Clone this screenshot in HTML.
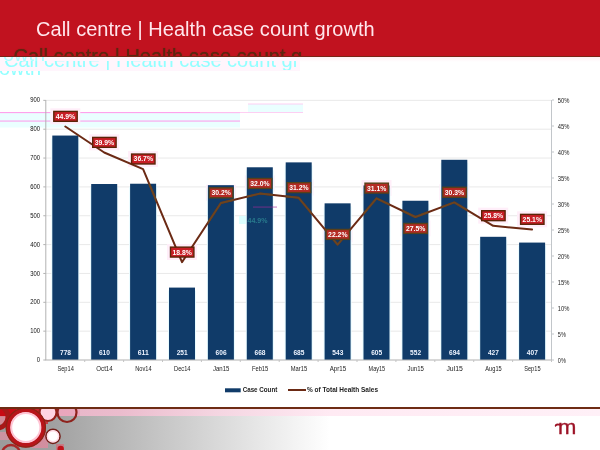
<!DOCTYPE html>
<html><head><meta charset="utf-8"><title>Call centre | Health case count growth</title>
<style>
html,body{margin:0;padding:0;background:#fff;}
body{width:600px;height:450px;overflow:hidden;position:relative;font-family:"Liberation Sans",sans-serif;}
#hdr{position:absolute;left:0;top:0;width:600px;height:56px;background:#c1121f;border-bottom:1px solid #7a2416;overflow:hidden;}
#title{position:absolute;left:36px;top:18.2px;font-size:20px;line-height:23px;color:#ffe6ec;white-space:nowrap;letter-spacing:0.03px;}
#ghost1{position:absolute;left:13.5px;top:45.3px;font-size:20px;line-height:23px;color:#5e2610;white-space:nowrap;text-shadow:0 0 1px #5e2610;}
#tint{position:absolute;left:0;top:57px;width:600px;height:5px;background:linear-gradient(180deg,#fff0f5,#ffffff);}
#haze{position:absolute;left:0;top:57px;width:300px;height:14px;background:#fff5fc;}
#gwrap{position:absolute;left:0;top:60.6px;width:320px;height:9px;overflow:hidden;}
#ghost2{position:absolute;left:4px;top:-11.2px;font-size:20px;line-height:23px;color:#92ffff;white-space:nowrap;}
#gwrap2{position:absolute;left:0;top:71px;width:60px;height:5.6px;overflow:hidden;}
#ghost3{position:absolute;left:-1px;top:-13.8px;font-size:20px;line-height:23px;color:#92ffff;white-space:nowrap;}
#gwrap3{position:absolute;left:0;top:57px;width:60px;height:6.5px;overflow:hidden;}
#ghost4{position:absolute;left:3px;top:-13.6px;font-size:20px;line-height:23px;color:#aff;white-space:nowrap;}
#ftr{position:absolute;left:0;top:407.5px;width:600px;height:42.5px;background:linear-gradient(90deg,#9c9c9c 0px,#a0a0a0 50px,#c2c2c2 150px,#e4e4e4 250px,#ffffff 330px,#ffffff 600px);overflow:hidden;}
#fline{position:absolute;left:0;top:407.4px;width:600px;height:1.6px;background:#6e2c14;}
#fpink{position:absolute;left:0;top:409px;width:600px;height:6.6px;background:linear-gradient(90deg,#e6b0c4 0px,#ebbccd 120px,#f5d6e2 220px,#ffeaf3 330px,#fff0f7 600px);}
#logo{position:absolute;left:558.1px;top:416.2px;font-size:20px;line-height:23px;color:#9c1226;-webkit-text-stroke:0.35px #9c1226;transform-origin:0 0;transform:scale(1.1,1);}
svg{position:absolute;left:0;top:0;}
svg text{font-family:"Liberation Sans",sans-serif;}
</style></head><body>
<div id="hdr"><div id="title">Call centre | Health case count growth</div><div id="ghost1">Call centre | Health case count g</div></div>
<div id="tint"></div><div id="haze"></div>
<div id="gwrap3"><div id="ghost4">owth</div></div>
<div id="gwrap"><div id="ghost2">Call centre | Health case count gr</div></div>
<div id="gwrap2"><div id="ghost3">owth</div></div>
<div id="ftr"></div><div id="fpink"></div><div id="fline"></div>
<div id="logo">m</div>
<svg width="600" height="450" viewBox="0 0 600 450">
<rect x="0" y="113" width="240" height="14.5" fill="#eaffff"/>
<rect x="248" y="104" width="55" height="8.5" fill="#eaffff"/>
<rect x="0" y="112.2" width="240" height="0.9" fill="#ff8ce8"/>
<rect x="0" y="120.6" width="240" height="0.9" fill="#ff8ce8"/>
<rect x="248" y="103.6" width="55" height="0.8" fill="#ffc4f0"/>
<rect x="200" y="112.2" width="103" height="0.8" fill="#ffc4f0"/>
<rect x="45.8" y="330.65" width="505.7" height="1" fill="#e9e9e9"/>
<rect x="45.8" y="301.80" width="505.7" height="1" fill="#e9e9e9"/>
<rect x="45.8" y="272.95" width="505.7" height="1" fill="#e9e9e9"/>
<rect x="45.8" y="244.10" width="505.7" height="1" fill="#e9e9e9"/>
<rect x="45.8" y="215.25" width="505.7" height="1" fill="#e9e9e9"/>
<rect x="45.8" y="186.40" width="505.7" height="1" fill="#e9e9e9"/>
<rect x="45.8" y="157.55" width="505.7" height="1" fill="#e9e9e9"/>
<rect x="45.8" y="128.70" width="505.7" height="1" fill="#e9e9e9"/>
<rect x="45.8" y="99.85" width="505.7" height="1" fill="#e9e9e9"/>
<rect x="239" y="216" width="33" height="8" fill="#dcffff"/>
<rect x="50.30" y="108.32" width="30" height="16" fill="#ffeef9"/>
<rect x="89.20" y="134.32" width="30" height="16" fill="#ffeef9"/>
<rect x="128.10" y="150.96" width="30" height="16" fill="#ffeef9"/>
<rect x="167.00" y="244.04" width="30" height="16" fill="#ffeef9"/>
<rect x="205.90" y="184.76" width="30" height="16" fill="#ffeef9"/>
<rect x="244.80" y="175.40" width="30" height="16" fill="#ffeef9"/>
<rect x="283.70" y="179.56" width="30" height="16" fill="#ffeef9"/>
<rect x="322.60" y="226.36" width="30" height="16" fill="#ffeef9"/>
<rect x="361.50" y="180.08" width="30" height="16" fill="#ffeef9"/>
<rect x="400.40" y="220.40" width="30" height="16" fill="#ffeef9"/>
<rect x="439.30" y="184.24" width="30" height="16" fill="#ffeef9"/>
<rect x="478.20" y="207.64" width="30" height="16" fill="#ffeef9"/>
<rect x="517.10" y="211.28" width="30" height="16" fill="#ffeef9"/>
<rect x="51.30" y="138.55" width="28.00" height="221.45" fill="#e8fbff"/>
<rect x="52.30" y="135.55" width="26.00" height="224.45" fill="#103b69"/>
<rect x="90.20" y="187.01" width="28.00" height="172.99" fill="#e8fbff"/>
<rect x="91.20" y="184.01" width="26.00" height="175.99" fill="#103b69"/>
<rect x="129.10" y="186.73" width="28.00" height="173.27" fill="#e8fbff"/>
<rect x="130.10" y="183.73" width="26.00" height="176.27" fill="#103b69"/>
<rect x="168.00" y="290.59" width="28.00" height="69.41" fill="#e8fbff"/>
<rect x="169.00" y="287.59" width="26.00" height="72.41" fill="#103b69"/>
<rect x="206.90" y="188.17" width="28.00" height="171.83" fill="#e8fbff"/>
<rect x="207.90" y="185.17" width="26.00" height="174.83" fill="#103b69"/>
<rect x="245.80" y="170.28" width="28.00" height="189.72" fill="#e8fbff"/>
<rect x="246.80" y="167.28" width="26.00" height="192.72" fill="#103b69"/>
<rect x="284.70" y="165.38" width="28.00" height="194.62" fill="#e8fbff"/>
<rect x="285.70" y="162.38" width="26.00" height="197.62" fill="#103b69"/>
<rect x="323.60" y="206.34" width="28.00" height="153.66" fill="#e8fbff"/>
<rect x="324.60" y="203.34" width="26.00" height="156.66" fill="#103b69"/>
<rect x="362.50" y="188.46" width="28.00" height="171.54" fill="#e8fbff"/>
<rect x="363.50" y="185.46" width="26.00" height="174.54" fill="#103b69"/>
<rect x="401.40" y="203.75" width="28.00" height="156.25" fill="#e8fbff"/>
<rect x="402.40" y="200.75" width="26.00" height="159.25" fill="#103b69"/>
<rect x="440.30" y="162.78" width="28.00" height="197.22" fill="#e8fbff"/>
<rect x="441.30" y="159.78" width="26.00" height="200.22" fill="#103b69"/>
<rect x="479.20" y="239.81" width="28.00" height="120.19" fill="#e8fbff"/>
<rect x="480.20" y="236.81" width="26.00" height="123.19" fill="#103b69"/>
<rect x="518.10" y="245.58" width="28.00" height="114.42" fill="#e8fbff"/>
<rect x="519.10" y="242.58" width="26.00" height="117.42" fill="#103b69"/>
<rect x="45.3" y="100" width="1" height="260" fill="#b2b2b2"/>
<rect x="551" y="100" width="1" height="260" fill="#c2c6ca"/>
<rect x="45.3" y="359.5" width="506.7" height="1" fill="#b2b2b2"/>
<rect x="43.3" y="359.50" width="2.5" height="1" fill="#b2b2b2"/>
<text x="40" y="362.10" font-size="6.6" text-anchor="end" fill="#111" textLength="3.3" lengthAdjust="spacingAndGlyphs">0</text>
<rect x="43.3" y="330.65" width="2.5" height="1" fill="#b2b2b2"/>
<text x="40" y="333.25" font-size="6.6" text-anchor="end" fill="#111" textLength="9.8" lengthAdjust="spacingAndGlyphs">100</text>
<rect x="43.3" y="301.80" width="2.5" height="1" fill="#b2b2b2"/>
<text x="40" y="304.40" font-size="6.6" text-anchor="end" fill="#111" textLength="9.8" lengthAdjust="spacingAndGlyphs">200</text>
<rect x="43.3" y="272.95" width="2.5" height="1" fill="#b2b2b2"/>
<text x="40" y="275.55" font-size="6.6" text-anchor="end" fill="#111" textLength="9.8" lengthAdjust="spacingAndGlyphs">300</text>
<rect x="43.3" y="244.10" width="2.5" height="1" fill="#b2b2b2"/>
<text x="40" y="246.70" font-size="6.6" text-anchor="end" fill="#111" textLength="9.8" lengthAdjust="spacingAndGlyphs">400</text>
<rect x="43.3" y="215.25" width="2.5" height="1" fill="#b2b2b2"/>
<text x="40" y="217.85" font-size="6.6" text-anchor="end" fill="#111" textLength="9.8" lengthAdjust="spacingAndGlyphs">500</text>
<rect x="43.3" y="186.40" width="2.5" height="1" fill="#b2b2b2"/>
<text x="40" y="189.00" font-size="6.6" text-anchor="end" fill="#111" textLength="9.8" lengthAdjust="spacingAndGlyphs">600</text>
<rect x="43.3" y="157.55" width="2.5" height="1" fill="#b2b2b2"/>
<text x="40" y="160.15" font-size="6.6" text-anchor="end" fill="#111" textLength="9.8" lengthAdjust="spacingAndGlyphs">700</text>
<rect x="43.3" y="128.70" width="2.5" height="1" fill="#b2b2b2"/>
<text x="40" y="131.30" font-size="6.6" text-anchor="end" fill="#111" textLength="9.8" lengthAdjust="spacingAndGlyphs">800</text>
<rect x="43.3" y="99.85" width="2.5" height="1" fill="#b2b2b2"/>
<text x="40" y="102.45" font-size="6.6" text-anchor="end" fill="#111" textLength="9.8" lengthAdjust="spacingAndGlyphs">900</text>
<rect x="552" y="359.50" width="2" height="1" fill="#c2c6ca"/>
<text x="557.8" y="362.90" font-size="6.6" fill="#222" textLength="8.0" lengthAdjust="spacingAndGlyphs">0%</text>
<rect x="552" y="333.50" width="2" height="1" fill="#c2c6ca"/>
<text x="557.8" y="336.90" font-size="6.6" fill="#222" textLength="8.0" lengthAdjust="spacingAndGlyphs">5%</text>
<rect x="552" y="307.50" width="2" height="1" fill="#c2c6ca"/>
<text x="557.8" y="310.90" font-size="6.6" fill="#222" textLength="11.6" lengthAdjust="spacingAndGlyphs">10%</text>
<rect x="552" y="281.50" width="2" height="1" fill="#c2c6ca"/>
<text x="557.8" y="284.90" font-size="6.6" fill="#222" textLength="11.6" lengthAdjust="spacingAndGlyphs">15%</text>
<rect x="552" y="255.50" width="2" height="1" fill="#c2c6ca"/>
<text x="557.8" y="258.90" font-size="6.6" fill="#222" textLength="11.6" lengthAdjust="spacingAndGlyphs">20%</text>
<rect x="552" y="229.50" width="2" height="1" fill="#c2c6ca"/>
<text x="557.8" y="232.90" font-size="6.6" fill="#222" textLength="11.6" lengthAdjust="spacingAndGlyphs">25%</text>
<rect x="552" y="203.50" width="2" height="1" fill="#c2c6ca"/>
<text x="557.8" y="206.90" font-size="6.6" fill="#222" textLength="11.6" lengthAdjust="spacingAndGlyphs">30%</text>
<rect x="552" y="177.50" width="2" height="1" fill="#c2c6ca"/>
<text x="557.8" y="180.90" font-size="6.6" fill="#222" textLength="11.6" lengthAdjust="spacingAndGlyphs">35%</text>
<rect x="552" y="151.50" width="2" height="1" fill="#c2c6ca"/>
<text x="557.8" y="154.90" font-size="6.6" fill="#222" textLength="11.6" lengthAdjust="spacingAndGlyphs">40%</text>
<rect x="552" y="125.50" width="2" height="1" fill="#c2c6ca"/>
<text x="557.8" y="128.90" font-size="6.6" fill="#222" textLength="11.6" lengthAdjust="spacingAndGlyphs">45%</text>
<rect x="552" y="99.50" width="2" height="1" fill="#c2c6ca"/>
<text x="557.8" y="102.90" font-size="6.6" fill="#222" textLength="11.6" lengthAdjust="spacingAndGlyphs">50%</text>
<rect x="84.20" y="360" width="1" height="2" fill="#c4c4c4"/>
<text x="65.60" y="371" font-size="6.6" text-anchor="middle" fill="#222" textLength="16.4" lengthAdjust="spacingAndGlyphs">Sep14</text>
<text x="65.50" y="354.7" font-size="7.2" font-weight="bold" text-anchor="middle" fill="#eef4ff" textLength="11" lengthAdjust="spacingAndGlyphs">778</text>
<rect x="123.10" y="360" width="1" height="2" fill="#c4c4c4"/>
<text x="104.50" y="371" font-size="6.6" text-anchor="middle" fill="#222" textLength="16.4" lengthAdjust="spacingAndGlyphs">Oct14</text>
<text x="104.40" y="354.7" font-size="7.2" font-weight="bold" text-anchor="middle" fill="#eef4ff" textLength="11" lengthAdjust="spacingAndGlyphs">610</text>
<rect x="162.00" y="360" width="1" height="2" fill="#c4c4c4"/>
<text x="143.40" y="371" font-size="6.6" text-anchor="middle" fill="#222" textLength="16.4" lengthAdjust="spacingAndGlyphs">Nov14</text>
<text x="143.30" y="354.7" font-size="7.2" font-weight="bold" text-anchor="middle" fill="#eef4ff" textLength="11" lengthAdjust="spacingAndGlyphs">611</text>
<rect x="200.90" y="360" width="1" height="2" fill="#c4c4c4"/>
<text x="182.30" y="371" font-size="6.6" text-anchor="middle" fill="#222" textLength="16.4" lengthAdjust="spacingAndGlyphs">Dec14</text>
<text x="182.20" y="354.7" font-size="7.2" font-weight="bold" text-anchor="middle" fill="#eef4ff" textLength="11" lengthAdjust="spacingAndGlyphs">251</text>
<rect x="239.80" y="360" width="1" height="2" fill="#c4c4c4"/>
<text x="221.20" y="371" font-size="6.6" text-anchor="middle" fill="#222" textLength="16.4" lengthAdjust="spacingAndGlyphs">Jan15</text>
<text x="221.10" y="354.7" font-size="7.2" font-weight="bold" text-anchor="middle" fill="#eef4ff" textLength="11" lengthAdjust="spacingAndGlyphs">606</text>
<rect x="278.70" y="360" width="1" height="2" fill="#c4c4c4"/>
<text x="260.10" y="371" font-size="6.6" text-anchor="middle" fill="#222" textLength="16.4" lengthAdjust="spacingAndGlyphs">Feb15</text>
<text x="260.00" y="354.7" font-size="7.2" font-weight="bold" text-anchor="middle" fill="#eef4ff" textLength="11" lengthAdjust="spacingAndGlyphs">668</text>
<rect x="317.60" y="360" width="1" height="2" fill="#c4c4c4"/>
<text x="299.00" y="371" font-size="6.6" text-anchor="middle" fill="#222" textLength="16.4" lengthAdjust="spacingAndGlyphs">Mar15</text>
<text x="298.90" y="354.7" font-size="7.2" font-weight="bold" text-anchor="middle" fill="#eef4ff" textLength="11" lengthAdjust="spacingAndGlyphs">685</text>
<rect x="356.50" y="360" width="1" height="2" fill="#c4c4c4"/>
<text x="337.90" y="371" font-size="6.6" text-anchor="middle" fill="#222" textLength="16.4" lengthAdjust="spacingAndGlyphs">Apr15</text>
<text x="337.80" y="354.7" font-size="7.2" font-weight="bold" text-anchor="middle" fill="#eef4ff" textLength="11" lengthAdjust="spacingAndGlyphs">543</text>
<rect x="395.40" y="360" width="1" height="2" fill="#c4c4c4"/>
<text x="376.80" y="371" font-size="6.6" text-anchor="middle" fill="#222" textLength="16.4" lengthAdjust="spacingAndGlyphs">May15</text>
<text x="376.70" y="354.7" font-size="7.2" font-weight="bold" text-anchor="middle" fill="#eef4ff" textLength="11" lengthAdjust="spacingAndGlyphs">605</text>
<rect x="434.30" y="360" width="1" height="2" fill="#c4c4c4"/>
<text x="415.70" y="371" font-size="6.6" text-anchor="middle" fill="#222" textLength="16.4" lengthAdjust="spacingAndGlyphs">Jun15</text>
<text x="415.60" y="354.7" font-size="7.2" font-weight="bold" text-anchor="middle" fill="#eef4ff" textLength="11" lengthAdjust="spacingAndGlyphs">552</text>
<rect x="473.20" y="360" width="1" height="2" fill="#c4c4c4"/>
<text x="454.60" y="371" font-size="6.6" text-anchor="middle" fill="#222" textLength="16.4" lengthAdjust="spacingAndGlyphs">Jul15</text>
<text x="454.50" y="354.7" font-size="7.2" font-weight="bold" text-anchor="middle" fill="#eef4ff" textLength="11" lengthAdjust="spacingAndGlyphs">694</text>
<rect x="512.10" y="360" width="1" height="2" fill="#c4c4c4"/>
<text x="493.50" y="371" font-size="6.6" text-anchor="middle" fill="#222" textLength="16.4" lengthAdjust="spacingAndGlyphs">Aug15</text>
<text x="493.40" y="354.7" font-size="7.2" font-weight="bold" text-anchor="middle" fill="#eef4ff" textLength="11" lengthAdjust="spacingAndGlyphs">427</text>
<rect x="551.00" y="360" width="1" height="2" fill="#c4c4c4"/>
<text x="532.40" y="371" font-size="6.6" text-anchor="middle" fill="#222" textLength="16.4" lengthAdjust="spacingAndGlyphs">Sep15</text>
<text x="532.30" y="354.7" font-size="7.2" font-weight="bold" text-anchor="middle" fill="#eef4ff" textLength="11" lengthAdjust="spacingAndGlyphs">407</text>
<polyline fill="none" stroke="#6b2a14" stroke-width="2" stroke-linejoin="round" stroke-linecap="round" points="65.3,126.5 104.2,152.5 143.1,169.2 182.0,262.2 220.9,203.0 259.8,193.6 298.7,197.8 337.6,244.6 376.5,198.3 415.4,217.0 454.3,202.4 493.2,225.8 532.1,229.5"/>
<clipPath id="bc"><rect x="52.30" y="135.55" width="26.0" height="224.45"/><rect x="91.20" y="184.01" width="26.0" height="175.99"/><rect x="130.10" y="183.73" width="26.0" height="176.27"/><rect x="169.00" y="287.59" width="26.0" height="72.41"/><rect x="207.90" y="185.17" width="26.0" height="174.83"/><rect x="246.80" y="167.28" width="26.0" height="192.72"/><rect x="285.70" y="162.38" width="26.0" height="197.62"/><rect x="324.60" y="203.34" width="26.0" height="156.66"/><rect x="363.50" y="185.46" width="26.0" height="174.54"/><rect x="402.40" y="200.75" width="26.0" height="159.25"/><rect x="441.30" y="159.78" width="26.0" height="200.22"/><rect x="480.20" y="236.81" width="26.0" height="123.19"/><rect x="519.10" y="242.58" width="26.0" height="117.42"/></clipPath>
<polyline clip-path="url(#bc)" fill="none" stroke="#6a4420" stroke-width="2" stroke-linejoin="round" stroke-linecap="round" points="65.3,126.5 104.2,152.5 143.1,169.2 182.0,262.2 220.9,203.0 259.8,193.6 298.7,197.8 337.6,244.6 376.5,198.3 415.4,217.0 454.3,202.4 493.2,225.8 532.1,229.5"/>
<rect x="53.80" y="111.42" width="23.4" height="9.9" fill="#c81e26" stroke="#5a2408" stroke-width="1.4"/>
<text x="65.50" y="118.82" font-size="6.8" font-weight="bold" text-anchor="middle" fill="#fff" textLength="19.4" lengthAdjust="spacingAndGlyphs">44.9%</text>
<rect x="92.70" y="137.42" width="23.4" height="9.9" fill="#c81e26" stroke="#5a2408" stroke-width="1.4"/>
<text x="104.40" y="144.82" font-size="6.8" font-weight="bold" text-anchor="middle" fill="#fff" textLength="19.4" lengthAdjust="spacingAndGlyphs">39.9%</text>
<rect x="131.60" y="154.06" width="23.4" height="9.9" fill="#c81e26" stroke="#5a2408" stroke-width="1.4"/>
<text x="143.30" y="161.46" font-size="6.8" font-weight="bold" text-anchor="middle" fill="#fff" textLength="19.4" lengthAdjust="spacingAndGlyphs">36.7%</text>
<rect x="170.50" y="247.14" width="23.4" height="9.9" fill="#c81e26" stroke="#5a2408" stroke-width="1.4"/>
<text x="182.20" y="254.54" font-size="6.8" font-weight="bold" text-anchor="middle" fill="#fff" textLength="19.4" lengthAdjust="spacingAndGlyphs">18.8%</text>
<rect x="209.40" y="187.86" width="23.4" height="9.9" fill="#b42a24" stroke="#58401a" stroke-width="1.4"/>
<text x="221.10" y="195.26" font-size="6.8" font-weight="bold" text-anchor="middle" fill="#fff" textLength="19.4" lengthAdjust="spacingAndGlyphs">30.2%</text>
<rect x="248.30" y="178.50" width="23.4" height="9.9" fill="#b42a24" stroke="#58401a" stroke-width="1.4"/>
<text x="260.00" y="185.90" font-size="6.8" font-weight="bold" text-anchor="middle" fill="#fff" textLength="19.4" lengthAdjust="spacingAndGlyphs">32.0%</text>
<rect x="287.20" y="182.66" width="23.4" height="9.9" fill="#b42a24" stroke="#58401a" stroke-width="1.4"/>
<text x="298.90" y="190.06" font-size="6.8" font-weight="bold" text-anchor="middle" fill="#fff" textLength="19.4" lengthAdjust="spacingAndGlyphs">31.2%</text>
<rect x="326.10" y="229.46" width="23.4" height="9.9" fill="#b42a24" stroke="#58401a" stroke-width="1.4"/>
<text x="337.80" y="236.86" font-size="6.8" font-weight="bold" text-anchor="middle" fill="#fff" textLength="19.4" lengthAdjust="spacingAndGlyphs">22.2%</text>
<rect x="365.00" y="183.18" width="23.4" height="9.9" fill="#b42a24" stroke="#58401a" stroke-width="1.4"/>
<text x="376.70" y="190.58" font-size="6.8" font-weight="bold" text-anchor="middle" fill="#fff" textLength="19.4" lengthAdjust="spacingAndGlyphs">31.1%</text>
<rect x="403.90" y="223.50" width="23.4" height="9.9" fill="#b42a24" stroke="#58401a" stroke-width="1.4"/>
<text x="415.60" y="230.90" font-size="6.8" font-weight="bold" text-anchor="middle" fill="#fff" textLength="19.4" lengthAdjust="spacingAndGlyphs">27.5%</text>
<rect x="442.80" y="187.34" width="23.4" height="9.9" fill="#b42a24" stroke="#58401a" stroke-width="1.4"/>
<text x="454.50" y="194.74" font-size="6.8" font-weight="bold" text-anchor="middle" fill="#fff" textLength="19.4" lengthAdjust="spacingAndGlyphs">30.3%</text>
<rect x="481.70" y="210.74" width="23.4" height="9.9" fill="#c81e26" stroke="#5a2408" stroke-width="1.4"/>
<text x="493.40" y="218.14" font-size="6.8" font-weight="bold" text-anchor="middle" fill="#fff" textLength="19.4" lengthAdjust="spacingAndGlyphs">25.8%</text>
<rect x="520.60" y="214.38" width="23.4" height="9.9" fill="#c81e26" stroke="#5a2408" stroke-width="1.4"/>
<text x="532.30" y="221.78" font-size="6.8" font-weight="bold" text-anchor="middle" fill="#fff" textLength="19.4" lengthAdjust="spacingAndGlyphs">25.1%</text>
<text x="247.5" y="222.8" font-size="6.5" font-weight="bold" fill="#3fb8b0" opacity="0.5" textLength="20" lengthAdjust="spacingAndGlyphs">44.9%</text>
<rect x="253" y="206.6" width="24" height="0.9" fill="#a8289a" opacity="0.7"/>
<rect x="225" y="388.3" width="15.7" height="4" fill="#103b69"/>
<text x="242.7" y="392.3" font-size="6.8" font-weight="bold" fill="#222" textLength="34.6" lengthAdjust="spacingAndGlyphs">Case Count</text>
<rect x="288" y="389" width="18" height="2" fill="#6b2a14"/>
<text x="307" y="392.3" font-size="6.8" font-weight="bold" fill="#222" textLength="71" lengthAdjust="spacingAndGlyphs">% of Total Health Sales</text>
<g>
<clipPath id="fc"><rect x="0" y="409" width="600" height="41"/></clipPath>
<g clip-path="url(#fc)">
<rect x="0" y="409" width="16" height="7.5" fill="#c80a14"/>
<rect x="16" y="409" width="32" height="7.5" fill="#c80a14" opacity="0.85"/>
<rect x="32" y="416" width="16" height="8" fill="#d0202c" opacity="0.8"/>
<rect x="0" y="416" width="8" height="8" fill="#e08898" opacity="0.8"/>
<rect x="0" y="432" width="16" height="8" fill="#e090a4" opacity="0.7"/>
<rect x="32" y="432" width="16" height="16" fill="#e888a0" opacity="0.7"/>
<rect x="48" y="409" width="32" height="7" fill="#e8a0b8" opacity="0.7"/>
<rect x="56" y="444" width="8" height="6" fill="#e06070" opacity="0.6"/>
<circle cx="-3" cy="417" r="11" fill="none" stroke="#a81818" stroke-width="5"/>
<circle cx="48" cy="412.5" r="8.5" fill="#ffd3e2" stroke="#96201a" stroke-width="2.2"/>
<circle cx="67" cy="412.5" r="9.5" fill="none" stroke="#8e221c" stroke-width="2.2"/>
<circle cx="25.8" cy="427.5" r="17.6" fill="#fff" stroke="#b8141a" stroke-width="5"/>
<circle cx="25.8" cy="427.5" r="19.6" fill="none" stroke="#8a2414" stroke-width="1.2"/>
<circle cx="25.8" cy="427.5" r="14.6" fill="none" stroke="#ffc4d4" stroke-width="2"/>
<circle cx="53" cy="436.3" r="7" fill="#fff" stroke="#74201a" stroke-width="1.7"/>
<circle cx="53" cy="436.3" r="5.6" fill="none" stroke="#ffdbe6" stroke-width="1.4"/>
<circle cx="60.7" cy="449" r="3.2" fill="#c0121a"/>
<circle cx="11" cy="454" r="9" fill="none" stroke="#a82828" stroke-width="2.4"/>
</g></g>
<path d="M560.6 424.4 C559 423.2 556.6 422.9 555.2 424.4 C554.5 425.3 554.7 426.6 555.6 426.9 C556.6 425.6 558.6 425.2 560.6 426 Z" fill="#9c1226"/>
</svg></body></html>
